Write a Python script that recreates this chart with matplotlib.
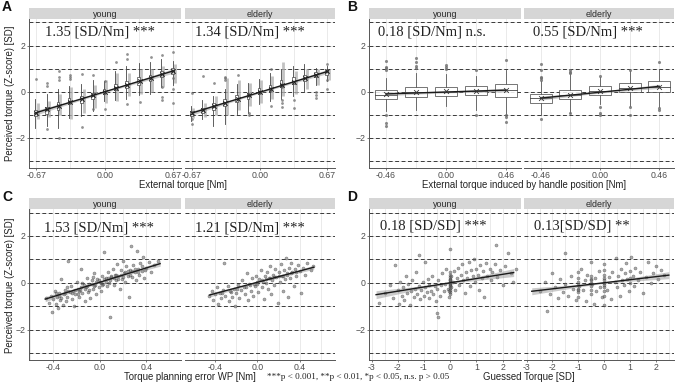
import matplotlib.pyplot as plt
import numpy as np
from matplotlib.patches import Rectangle

plt.rcParams['font.family'] = ['Liberation Sans', 'DejaVu Sans']

# ---------------- data ----------------
groups = ["young", "elderly"]

# A: external torque levels, box stats per level
a_levels = [-0.67, -0.56, -0.45, -0.34, -0.22, -0.11, 0.0, 0.11, 0.22, 0.34, 0.45, 0.56, 0.67]
a_young_q1 = [-1.05, -0.95, -0.78, -0.55, -0.48, -0.32, -0.08, 0.08, 0.15, 0.30, 0.45, 0.62, 0.78]
a_young_med = [-0.92, -0.80, -0.62, -0.42, -0.33, -0.18, 0.02, 0.22, 0.30, 0.45, 0.58, 0.75, 0.92]
a_young_q3 = [-0.80, -0.65, -0.45, -0.28, -0.18, -0.05, 0.12, 0.35, 0.48, 0.62, 0.72, 0.88, 1.02]
a_young_lo = [-1.58, -1.50, -1.55, -1.15, -1.05, -0.85, -0.40, -0.35, -0.30, -0.15, -0.10, 0.20, 0.30]
a_young_hi = [-0.30, -0.10, 0.10, 0.25, 0.35, 0.50, 0.45, 0.90, 1.10, 1.25, 1.30, 1.40, 1.35]
a_young_glo = [-1.20, -1.10, -1.00, -1.20, -0.90, -0.70, -0.50, -0.40, -0.20, -0.10, 0.00, 0.20, 0.40]
a_young_ghi = [-0.50, -0.40, -0.10, 0.20, 0.10, 0.30, 0.50, 0.80, 0.80, 1.00, 1.00, 1.10, 1.20]
a_young_mean = [-0.90, -0.76, -0.60, -0.45, -0.30, -0.15, 0.00, 0.15, 0.30, 0.46, 0.60, 0.76, 0.90]
a_young_out = [(-0.67, 0.54), (-0.56, 0.36), (-0.56, 0.25), (-0.56, -1.60), (-0.45, 0.91),
               (-0.45, 0.65), (-0.45, 0.50), (-0.45, -1.99), (-0.34, 0.72), (-0.34, 0.65),
               (-0.34, 0.57), (-0.22, 0.77), (-0.22, -1.52), (-0.11, 0.72), (-0.11, -0.75),
               (0.0, 0.46), (0.0, -0.75), (0.11, 1.30), (0.22, 1.62), (0.22, 1.40),
               (0.22, -0.54), (0.34, -0.43), (0.45, 1.49), (0.56, 1.57), (0.56, 0.19),
               (0.56, -0.22), (0.56, -0.36), (0.67, 1.74), (0.67, 0.58), (0.67, 0.14), (0.67, -0.48)]

a_eld_q1 = [-1.05, -0.92, -0.80, -0.60, -0.45, -0.30, -0.10, 0.05, 0.20, 0.35, 0.48, 0.65, 0.72]
a_eld_med = [-0.95, -0.80, -0.65, -0.45, -0.30, -0.18, 0.02, 0.18, 0.35, 0.48, 0.60, 0.75, 0.85]
a_eld_q3 = [-0.85, -0.70, -0.50, -0.30, -0.15, -0.05, 0.15, 0.30, 0.50, 0.62, 0.72, 0.85, 0.95]
a_eld_lo = [-1.25, -1.20, -1.50, -1.40, -0.95, -0.90, -0.55, -0.40, -0.30, -0.20, 0.05, 0.30, 0.45]
a_eld_hi = [-0.60, -0.35, -0.20, 0.10, 0.35, 0.40, 0.55, 0.80, 1.00, 1.10, 1.20, 1.05, 1.10]
a_eld_glo = [-1.15, -1.10, -1.00, -1.00, -0.80, -0.60, -0.50, -0.30, -0.20, -0.10, 0.10, 0.30, 0.50]
a_eld_ghi = [-0.70, -0.50, -0.20, 0.60, 0.50, 0.40, 0.50, 0.70, 1.30, 0.90, 1.00, 1.00, 1.00]
a_eld_mean = [-0.92, -0.78, -0.62, -0.47, -0.31, -0.16, -0.01, 0.14, 0.29, 0.44, 0.58, 0.73, 0.88]
a_eld_out = [(-0.67, -0.04), (-0.67, -1.16), (-0.67, -1.38), (-0.56, 0.68), (-0.45, 0.36),
             (-0.34, 0.65), (-0.34, 0.58), (-0.34, 0.50), (-0.22, 0.72), (-0.11, -0.94),
             (-0.11, -1.00), (0.11, 0.97), (0.11, -0.62), (0.22, 0.22), (0.22, -0.36),
             (0.22, -0.50), (0.22, -0.68), (0.34, -0.36), (0.34, -0.72), (0.56, 0.0),
             (0.56, -0.14), (0.56, -0.29), (0.67, 1.19), (0.67, 0.50), (0.67, 0.14)]

# B: handle position levels
b_levels = [-0.46, -0.23, 0.0, 0.23, 0.46]
b_young_q1 = [-0.33, -0.22, -0.17, -0.14, -0.22]
b_young_med = [-0.12, 0.00, 0.00, 0.04, 0.08]
b_young_q3 = [0.07, 0.19, 0.19, 0.25, 0.32]
b_young_lo = [-0.85, -0.80, -0.60, -0.77, -0.95]
b_young_hi = [0.60, 0.80, 0.75, 0.70, 0.95]
b_young_mean = [-0.10, 0.00, 0.02, 0.04, 0.06]
b_young_out = [(-0.46, 1.33), (-0.46, 1.09), (-0.46, 1.01), (-0.46, 0.94), (-0.46, -1.00),
               (-0.46, -1.35), (-0.46, -1.49), (-0.23, 1.45), (-0.23, 1.30), (-0.23, 1.12),
               (-0.23, 1.04), (0.0, 1.16), (0.0, 1.09), (0.0, 0.97), (0.23, 0.94),
               (0.23, -1.01), (0.46, 1.38), (0.46, -1.00), (0.46, -1.09), (0.46, -1.30)]
b_eld_q1 = [-0.50, -0.33, -0.12, 0.00, -0.03]
b_eld_med = [-0.28, -0.15, 0.05, 0.15, 0.22]
b_eld_q3 = [-0.10, 0.07, 0.25, 0.36, 0.46]
b_eld_lo = [-1.00, -0.90, -0.55, -0.60, -0.65]
b_eld_hi = [0.45, 0.75, 0.65, 0.90, 1.00]
b_eld_mean = [-0.26, -0.14, 0.04, 0.17, 0.21]
b_eld_out = [(-0.46, 1.20), (-0.46, 0.94), (-0.46, 0.65), (-0.46, 0.58), (-0.46, 0.52),
             (-0.46, -1.16), (-0.23, 0.94), (-0.23, 0.86), (-0.23, 0.80), (-0.23, -0.94),
             (0.0, 0.70), (0.0, -0.65), (0.0, -0.94), (0.0, -1.01), (0.23, 0.94),
             (0.23, -0.68), (0.23, -1.01), (0.46, 1.27), (0.46, -0.72), (0.46, -0.80)]

# C: torque planning error vs perceived torque
c_young_pts = np.array([
    (-0.46, -0.65), (-0.44, -0.85), (-0.42, -0.55), (-0.41, -1.25), (-0.40, -0.70), (-0.39, -0.35),
    (-0.38, -0.90), (-0.37, -0.60), (-0.36, -1.10), (-0.35, -0.45), (-0.34, -0.75), (-0.33, 0.15),
    (-0.32, -0.95), (-0.31, -0.50), (-0.30, -0.30), (-0.29, -0.80), (-0.28, -0.60), (-0.27, 0.95),
    (-0.26, -0.40), (-0.25, -0.15), (-0.24, -0.70), (-0.23, -0.35), (-0.22, -1.00), (-0.21, -0.50),
    (-0.20, 0.05), (-0.19, -0.25), (-0.18, -0.60), (-0.17, -0.30), (-0.16, 0.60), (-0.15, -0.45),
    (-0.14, -0.10), (-0.13, -0.80), (-0.12, -0.20), (-0.11, 0.20), (-0.10, -0.40), (-0.09, -0.05),
    (-0.08, -0.65), (-0.07, 0.10), (-0.06, -0.25), (-0.05, 0.40), (-0.04, -0.10), (-0.03, -0.50),
    (-0.02, 0.15), (-0.01, -0.20), (0.00, 0.05), (0.01, -0.35), (0.02, 0.30), (0.03, -0.05),
    (0.04, 1.30), (0.05, 0.20), (0.06, -0.15), (0.07, 0.45), (0.08, 0.00), (0.09, -1.45),
    (0.10, 0.25), (0.11, 0.60), (0.12, -0.10), (0.13, 0.35), (0.14, 0.10), (0.15, 0.80),
    (0.16, 0.30), (0.17, -0.25), (0.18, 0.55), (0.19, 0.15), (0.20, 0.95), (0.21, 0.40),
    (0.22, 0.05), (0.23, 0.70), (0.24, 0.30), (0.25, -0.60), (0.26, 0.55), (0.27, 1.55),
    (0.28, 0.25), (0.29, 0.75), (0.30, 0.45), (0.31, 0.10), (0.32, 1.35), (0.33, 0.60),
    (0.34, 0.35), (0.35, 0.85), (0.36, 0.50), (0.37, 1.10), (0.38, 0.20), (0.40, 0.65),
    (0.42, 0.90), (0.44, 0.45), (0.47, 0.75), (0.50, 0.95),
    (-0.35, -0.55), (-0.30, -0.45), (-0.27, -0.35), (-0.24, -0.45), (-0.21, -0.30), (-0.18, -0.35),
    (-0.16, -0.20), (-0.13, -0.25), (-0.11, -0.15), (-0.09, -0.30), (-0.07, -0.05), (-0.05, -0.15),
    (-0.03, 0.05), (-0.01, 0.10), (0.01, 0.00), (0.02, -0.10), (0.04, 0.15), (0.05, 0.05),
    (0.07, 0.20), (0.09, 0.10), (0.10, 0.30), (0.12, 0.20), (0.14, 0.35), (0.16, 0.15),
    (0.18, 0.35), (0.20, 0.25), (0.22, 0.45), (0.24, 0.50), (0.26, 0.35), (0.28, 0.50),
    (0.30, 0.60), (0.33, 0.45), (0.36, 0.70), (0.39, 0.55), (-0.38, -0.45), (-0.33, -0.65),
    (-0.28, -0.20), (-0.19, -0.50), (-0.15, 0.00), (-0.06, 0.25)])
c_eld_pts = np.array([
    (-0.45, -0.55), (-0.43, -0.35), (-0.42, -0.75), (-0.40, -0.50), (-0.38, -0.20), (-0.37, -0.90),
    (-0.35, -0.45), (-0.34, -0.65), (-0.32, -0.30), (-0.31, 0.85), (-0.30, -0.55), (-0.28, -0.15),
    (-0.27, -0.80), (-0.25, -0.40), (-0.24, -0.60), (-0.22, -0.25), (-0.21, -1.00), (-0.20, -0.45),
    (-0.18, -0.10), (-0.17, -0.65), (-0.15, -0.30), (-0.14, 0.10), (-0.12, -0.50), (-0.11, -0.20),
    (-0.10, 0.40), (-0.09, -0.75), (-0.08, -0.05), (-0.06, -0.35), (-0.05, 0.20), (-0.04, -0.55),
    (-0.02, -0.15), (-0.01, 0.30), (0.00, -0.05), (0.01, -0.40), (0.02, 0.15), (0.03, 0.55),
    (0.04, -0.20), (0.05, 0.05), (0.06, -0.70), (0.07, 0.30), (0.08, 0.00), (0.09, 0.45),
    (0.10, -0.25), (0.11, 0.20), (0.12, 0.70), (0.13, -0.50), (0.14, 0.10), (0.15, 0.35),
    (0.16, -0.10), (0.17, 0.60), (0.18, 0.25), (0.19, -0.85), (0.20, 0.45), (0.21, 0.05),
    (0.22, 0.80), (0.23, 0.30), (0.24, -0.35), (0.25, 0.55), (0.26, 0.15), (0.27, 1.05),
    (0.28, 0.40), (0.29, -0.60), (0.30, 0.65), (0.31, 0.20), (0.32, 0.85), (0.33, 0.45),
    (0.34, -0.15), (0.35, 0.60), (0.36, 0.30), (0.38, 0.75), (0.40, 0.50), (0.41, -0.45),
    (0.43, 0.65), (0.45, 0.35), (0.47, 0.85), (0.50, 0.55), (0.52, 0.70),
    (-0.33, -0.45), (-0.26, -0.35), (-0.19, -0.25), (-0.13, -0.20), (-0.07, -0.10), (-0.03, -0.05),
    (0.00, 0.05), (0.04, 0.10), (0.08, 0.15), (0.12, 0.20), (0.16, 0.25), (0.20, 0.30),
    (0.24, 0.30), (0.28, 0.35), (0.32, 0.40), (0.36, 0.45)])

# D: guessed torque vs perceived torque
d_young_pts = np.array([
    (-2.70, -0.85), (-2.50, -0.45), (-2.30, -0.10), (-2.20, -0.65), (-2.10, 0.75), (-2.00, -0.30),
    (-1.95, -0.90), (-1.90, 0.05), (-1.85, -0.55), (-1.80, -0.20), (-1.75, -0.75), (-1.70, 0.30),
    (-1.65, -0.45), (-1.60, -0.05), (-1.55, -0.95), (-1.50, -0.35), (-1.45, 0.10), (-1.40, -0.60),
    (-1.35, -0.25), (-1.30, 0.45), (-1.25, -0.50), (-1.20, -0.15), (-1.20, 1.20), (-1.15, -0.70),
    (-1.10, -0.30), (-1.05, 0.05), (-1.00, -0.55), (-0.95, -0.20), (-0.95, 0.90), (-0.90, -0.40),
    (-0.85, 0.15), (-0.80, -0.65), (-0.80, -0.10), (-0.75, -0.35), (-0.70, 0.30), (-0.65, -0.50),
    (-0.60, -0.15), (-0.55, -0.80), (-0.50, -1.30), (-0.50, -0.25), (-0.45, 0.10), (-0.45, -1.45),
    (-0.40, -0.55), (-0.35, -0.10), (-0.30, 0.40), (-0.25, -0.35), (-0.20, -0.05), (-0.15, 0.60),
    (-0.10, -0.25), (-0.05, -0.60),
    (0.00, -0.50), (0.00, -0.40), (0.00, -0.30), (0.00, -0.22), (0.00, -0.15), (0.00, -0.10),
    (0.00, -0.05), (0.00, 0.00), (0.00, 0.05), (0.00, 0.10), (0.00, 0.18), (0.00, 0.25),
    (0.00, 0.35), (0.00, 0.45), (0.00, 1.45), (0.02, -0.20), (-0.02, 0.10), (0.03, 0.30),
    (-0.03, -0.35),
    (0.10, 0.05), (0.15, 0.50), (0.20, -0.30), (0.25, 0.20), (0.30, 0.65), (0.35, -0.10),
    (0.40, 0.35), (0.45, 0.80), (0.50, 0.10), (0.55, -0.45), (0.60, 0.45), (0.65, 0.20),
    (0.70, 0.90), (0.75, -0.15), (0.80, 0.55), (0.85, 0.30), (0.90, 1.00), (0.95, 0.05),
    (1.00, 0.60), (1.05, 0.35), (1.10, -0.30), (1.15, 0.75), (1.20, 0.20), (1.25, 0.50),
    (1.30, -0.60), (1.35, 0.85), (1.40, 0.30), (1.50, 0.60), (1.55, 0.10), (1.60, 0.45),
    (1.70, 0.80), (1.75, 1.60), (1.80, 0.25), (1.90, 0.55), (2.00, -0.10), (2.10, 0.70),
    (2.20, 1.25), (2.30, 0.40), (2.40, 0.05), (2.50, 0.60)])
d_eld_pts = np.array([
    (-2.50, -0.35), (-2.30, 0.05), (-2.20, -1.20), (-2.10, -0.50), (-2.00, 0.40), (-1.90, -0.20),
    (-1.80, -0.65), (-1.70, 0.15), (-1.60, -0.40), (-1.50, 1.25), (-1.50, -0.05), (-1.40, -0.55),
    (-1.30, 0.30), (-1.20, -0.25), (-1.10, -0.75),
    (-1.00, -0.60), (-1.00, -0.40), (-1.00, -0.25), (-1.00, -0.10), (-1.00, 0.05), (-1.00, 0.20),
    (-1.00, 0.45), (-0.98, -0.15), (-1.02, -0.30),
    (-0.90, 0.60), (-0.80, -0.30), (-0.75, 0.10), (-0.70, -0.80), (-0.65, 0.35),
    (-0.50, -0.50), (-0.50, -0.30), (-0.50, -0.15), (-0.50, 0.00), (-0.50, 0.15), (-0.50, 0.30),
    (-0.48, -0.05), (-0.52, 0.10), (-0.50, 0.90),
    (-0.40, -0.90), (-0.35, 0.20), (-0.30, -0.35), (-0.20, 0.50), (-0.15, -0.20), (-0.10, -0.60),
    (0.00, -0.55), (0.00, -0.35), (0.00, -0.20), (0.00, -0.08), (0.00, 0.00), (0.00, 0.10),
    (0.00, 0.20), (0.00, 0.35), (0.00, 0.55), (0.00, 0.80), (0.00, -0.95),
    (0.10, -0.30), (0.20, 0.25), (0.25, -0.70), (0.30, 0.45), (0.40, 0.05), (0.45, 1.05),
    (0.50, -0.20), (0.55, 0.30), (0.60, -0.55), (0.65, 0.60), (0.70, 0.10), (0.75, -0.10),
    (0.80, 0.40), (0.85, 0.85), (0.90, 0.15), (0.95, -0.35), (1.00, 0.50), (1.00, 0.20),
    (1.00, 0.00), (1.05, 1.10), (1.10, 0.30), (1.15, -0.15), (1.20, 0.65), (1.30, 0.10),
    (1.40, 0.45), (1.50, -0.45), (1.60, 0.25), (1.70, 0.90), (1.80, 0.00), (1.90, 0.40),
    (2.00, 0.70), (2.10, 0.15), (2.20, 0.55), (2.30, 0.35)])

# regression fits: slope, intercept, x from, x to, band half-width at ends / centre
fit_slope = {"A": [1.35, 1.34], "B": [0.18, 0.55], "C": [1.53, 1.21], "D": [0.18, 0.13]}
fit_icpt = {"A": [0.0, -0.02], "B": [-0.01, -0.02], "C": [0.02, 0.02], "D": [0.0, 0.0]}
fit_xrange = {"A": [(-0.67, 0.67)] * 2, "B": [(-0.46, 0.46)] * 2,
              "C": [(-0.47, 0.52), (-0.45, 0.53)], "D": [(-2.83, 2.42), (-2.8, 2.5)]}
fit_band = {"A": [(0.10, 0.04), (0.09, 0.04)], "B": [(0.08, 0.04), (0.09, 0.04)],
            "C": [(0.11, 0.03), (0.09, 0.03)], "D": [(0.17, 0.03), (0.15, 0.03)]}

labels = {"A": ["1.35 [SD/Nm] ***", "1.34 [SD/Nm] ***"],
          "B": ["0.18 [SD/Nm] n.s.", "0.55 [SD/Nm] ***"],
          "C": ["1.53 [SD/Nm] ***", "1.21 [SD/Nm] ***"],
          "D": ["0.18 [SD/SD] ***", "0.13[SD/SD] **"]}
xtitles = {"A": "External torque [Nm]", "B": "External torque induced by handle position [Nm]",
           "C": "Torque planning error WP [Nm]", "D": "Guessed Torque [SD]"}
ytitle = "Perceived torque (Z-score) [SD]"
footnote = "***p < 0.001, **p < 0.01, *p < 0.05, n.s. p > 0.05"

# ---------------- layout ----------------
W, H = 679, 385
fig = plt.figure(figsize=(W / 100, H / 100), dpi=100)


def px_axes(x0, y0, x1, y1):
    return fig.add_axes([x0 / W, 1 - y1 / H, (x1 - x0) / W, (y1 - y0) / H])


def make_facet(x0, x1, y0, y1, name, first, xlim, xt, xtl, xminor):
    strip = px_axes(x0, y0 - 11, x1, y0)
    strip.set_facecolor('#d6d6d6')
    strip.set_xticks([])
    strip.set_yticks([])
    for s in strip.spines.values():
        s.set_visible(False)
    strip.text(0.5, 0.45, name, ha='center', va='center', fontsize=6.4, color='#2b2b2b')

    ax = px_axes(x0, y0, x1, y1)
    ax.set_xlim(xlim)
    ax.set_ylim(-3.3, 3.15)
    ax.set_xticks(xt)
    ax.set_xticklabels(xtl)
    ax.set_xticks(xminor, minor=True)
    ax.set_yticks([-2, 0, 2])
    ax.set_yticks([-3, -1, 1, 3], minor=True)
    ax.grid(which='both', color='#e6e6e6', lw=0.6)
    ax.set_axisbelow(True)
    for h in range(-3, 4):
        ax.axhline(h, color='#3a3a3a', lw=0.7, ls=(0, (4, 2.6)), zorder=1)
    ax.tick_params(which='major', length=1.6, width=0.5, color='#444444',
                   labelsize=6.3, labelcolor='#4d4d4d', pad=0.6)
    ax.tick_params(which='minor', length=0)
    ax.spines['top'].set_visible(False)
    ax.spines['right'].set_visible(False)
    ax.spines['bottom'].set_color('#555555')
    ax.spines['bottom'].set_linewidth(0.7)
    if first:
        ax.spines['left'].set_color('#555555')
        ax.spines['left'].set_linewidth(0.7)
    else:
        ax.spines['left'].set_visible(False)
        ax.tick_params(axis='y', left=False, labelleft=False)
    return ax


def draw_fit(ax, key, g):
    s, b = fit_slope[key][g], fit_icpt[key][g]
    lo, hi = fit_xrange[key][g]
    e, c = fit_band[key][g]
    xs = np.linspace(lo, hi, 60)
    m, half = (lo + hi) / 2, (hi - lo) / 2
    hw = np.sqrt(c ** 2 + (e ** 2 - c ** 2) * ((xs - m) / half) ** 2)
    ys = s * xs + b
    ax.fill_between(xs, ys - hw, ys + hw, color='#8c8c8c', alpha=0.45, lw=0, zorder=4)
    ax.plot(xs, ys, color='#1a1a1a', lw=1.0, zorder=5)


row_y = [(19, 168), (209, 360)]
col_x = {"A": [(29, 181), (185, 335)], "B": [(369, 521), (524, 674)],
         "C": [(29, 181), (185, 335)], "D": [(369, 521), (524, 674)]}
row_of = {"A": 0, "B": 0, "C": 1, "D": 1}
text_y = {"A": 0.91, "B": 0.91, "C": 0.875, "D": 0.885}
text_x = {"A": [0.105, 0.067], "B": [0.06, 0.06], "C": [0.10, 0.067], "D": [0.072, 0.067]}

axes = {}
for key in "ABCD":
    y0, y1 = row_y[row_of[key]]
    for g in range(2):
        x0, x1 = col_x[key][g]
        if key == "A":
            ax = make_facet(x0, x1, y0, y1, groups[g], g == 0, (-0.74, 0.745),
                            [-0.67, 0, 0.67], ["-0.67", "0.00", "0.67"], [-0.335, 0.335])
        elif key == "B":
            ax = make_facet(x0, x1, y0, y1, groups[g], g == 0, (-0.59, 0.575),
                            [-0.46, 0, 0.46], ["-0.46", "0.00", "0.46"], [-0.23, 0.23])
        elif key == "C":
            lim = (-0.61, 0.70) if g == 0 else (-0.68, 0.73)
            ax = make_facet(x0, x1, y0, y1, groups[g], g == 0, lim,
                            [-0.4, 0, 0.4], ["-0.4", "0.0", "0.4"], [-0.6, -0.2, 0.2, 0.6])
        else:
            ax = make_facet(x0, x1, y0, y1, groups[g], g == 0, (-3.1, 2.7),
                            [-3, -2, -1, 0, 1, 2], ["-3", "-2", "-1", "0", "1", "2"],
                            [-2.5, -1.5, -0.5, 0.5, 1.5, 2.5])
        axes[(key, g)] = ax
        ax.text(text_x[key][g], text_y[key], labels[key][g], transform=ax.transAxes,
                family=['Liberation Serif', 'DejaVu Serif'], fontsize=10.5,
                color='#222222', ha='left', va='center', zorder=8)

# ---- A: narrow boxplots per torque level ----
a_sets = [(a_young_q1, a_young_med, a_young_q3, a_young_lo, a_young_hi, a_young_glo, a_young_ghi,
           a_young_mean, a_young_out),
          (a_eld_q1, a_eld_med, a_eld_q3, a_eld_lo, a_eld_hi, a_eld_glo, a_eld_ghi,
           a_eld_mean, a_eld_out)]
for g in range(2):
    ax = axes[("A", g)]
    q1, med, q3, lo, hi, glo, ghi, mean, out = a_sets[g]
    bw = 0.026
    for i, x in enumerate(a_levels):
        xb = x - 0.008
        ax.plot([x + 0.014, x + 0.014], [glo[i], ghi[i]], color='#b3b3b3', lw=2.0,
                alpha=0.8, zorder=2, solid_capstyle='butt')
        ax.plot([xb, xb], [lo[i], q1[i]], color='#444444', lw=0.6, zorder=3)
        ax.plot([xb, xb], [q3[i], hi[i]], color='#444444', lw=0.6, zorder=3)
        ax.add_patch(Rectangle((xb - bw / 2, q1[i]), bw, q3[i] - q1[i], fc='white',
                               ec='#333333', lw=0.5, alpha=0.9, zorder=3))
        ax.plot([xb - bw / 2, xb + bw / 2], [med[i], med[i]], color='#333333', lw=0.6, zorder=3)
    op = np.array(out)
    ax.scatter(op[:, 0], op[:, 1], s=4, color='#6e6e6e', alpha=0.75, lw=0, zorder=3)
    draw_fit(ax, "A", g)
    ax.scatter(a_levels, mean, marker='x', s=10, color='#222222', lw=0.7, zorder=6)

# ---- B: wide boxplots per handle position ----
b_sets = [(b_young_q1, b_young_med, b_young_q3, b_young_lo, b_young_hi, b_young_mean, b_young_out),
          (b_eld_q1, b_eld_med, b_eld_q3, b_eld_lo, b_eld_hi, b_eld_mean, b_eld_out)]
for g in range(2):
    ax = axes[("B", g)]
    q1, med, q3, lo, hi, mean, out = b_sets[g]
    bw = 0.17
    for i, x in enumerate(b_levels):
        ax.plot([x, x], [lo[i], q1[i]], color='#555555', lw=0.6, zorder=3)
        ax.plot([x, x], [q3[i], hi[i]], color='#555555', lw=0.6, zorder=3)
        ax.add_patch(Rectangle((x - bw / 2, q1[i]), bw, q3[i] - q1[i], fc='white',
                               ec='#444444', lw=0.6, alpha=0.85, zorder=3))
        ax.plot([x - bw / 2, x + bw / 2], [med[i], med[i]], color='#444444', lw=0.6, zorder=3)
    op = np.array(out)
    ax.scatter(op[:, 0], op[:, 1], s=5, color='#6e6e6e', alpha=0.8, lw=0, zorder=3)
    draw_fit(ax, "B", g)
    ax.scatter(b_levels, mean, marker='x', s=12, color='#333333', lw=0.6, zorder=6)

# ---- C, D: scatter clouds ----
for key, sets in (("C", [c_young_pts, c_eld_pts]), ("D", [d_young_pts, d_eld_pts])):
    for g in range(2):
        ax = axes[(key, g)]
        p = sets[g]
        ax.scatter(p[:, 0], p[:, 1], s=5, facecolor='#666666', edgecolor='#222222',
                   lw=0.3, alpha=0.55, zorder=3)
        draw_fit(ax, key, g)

# ---- titles, letters, footnote ----
tkw = dict(ha='center', va='center', fontsize=6.9, color='#222222')
fig.text(10 / W, 1 - 93 / H, ytitle, rotation=90, **tkw)
fig.text(10 / W, 1 - 285 / H, ytitle, rotation=90, **tkw)
fig.text(183 / W, 1 - 185 / H, xtitles["A"], **tkw)
fig.text(524 / W, 1 - 185 / H, xtitles["B"], **tkw)
fig.text(190 / W, 1 - 377 / H, xtitles["C"], **tkw)
fig.text(529 / W, 1 - 377 / H, xtitles["D"], **tkw)
fig.text(267 / W, 1 - 377 / H, footnote, ha='left', va='center', fontsize=6.6,
         family=['Liberation Serif', 'DejaVu Serif'], color='#222222')
for letter, (lx, ly) in {"A": (7, 7), "B": (352, 7), "C": (7, 197), "D": (352, 197)}.items():
    fig.text(lx / W, 1 - ly / H, letter, ha='center', va='center', fontsize=10,
             fontweight='bold', color='#111111')

fig.savefig('out.png', dpi=100)
